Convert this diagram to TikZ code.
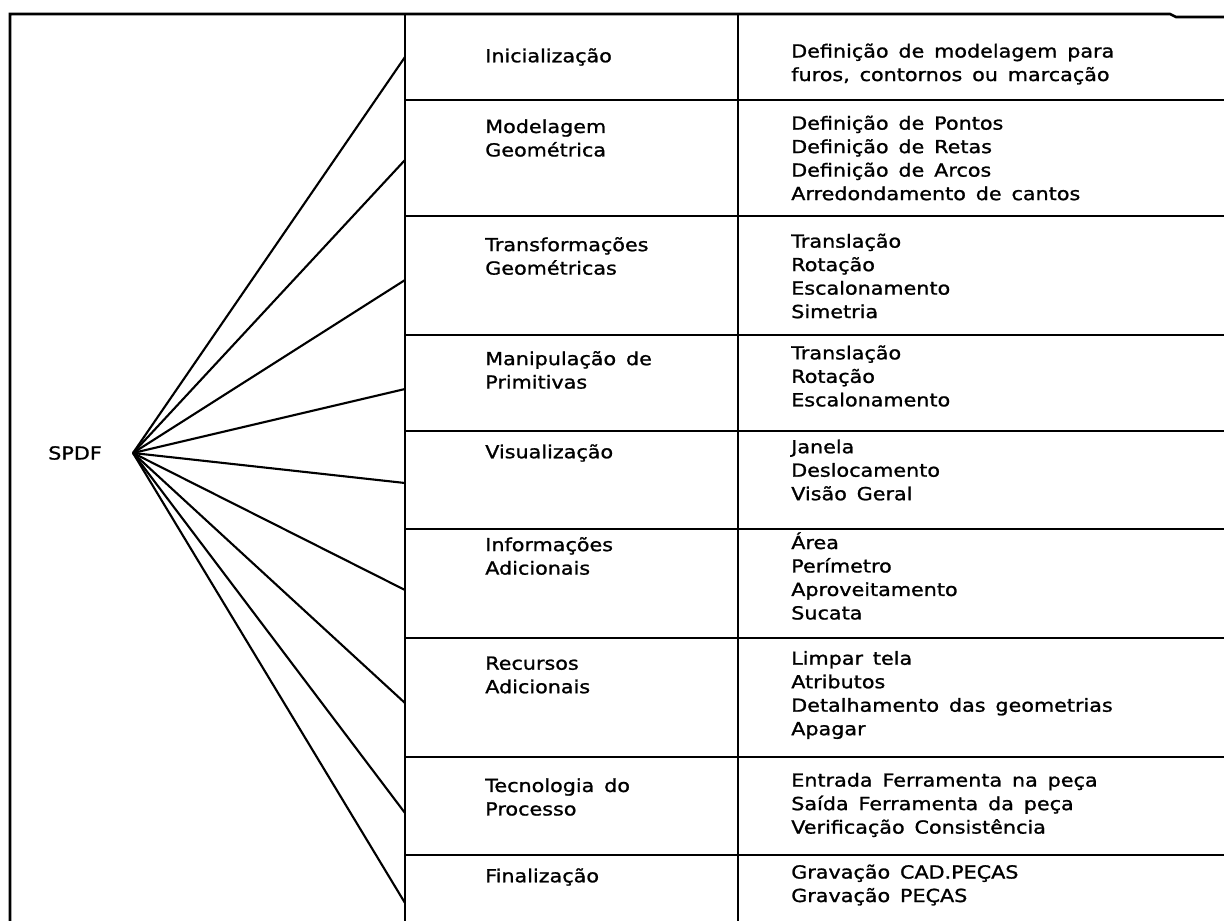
\documentclass[tikz,border=0pt]{standalone}
\usepackage{fontspec}
\setmainfont{DejaVu Sans}[FakeStretch=1.15, FakeBold=1.2, WordSpace=1.5]
\usepackage{tikz}

\begin{document}
\begin{tikzpicture}[x=0.025cm, y=-0.025cm,
		frame/.style={line width=1.8pt},
		ray/.style={line width=1.5pt},
		entry/.style={anchor=west, inner sep=0pt, align=left, font=\fontsize{12.8}{16.7}\selectfont}]
	\useasboundingbox (0,0) rectangle (1224,921);

	% quadro
	\draw[frame] (10,921) -- (10,14) -- (1170,14) -- (1176,17) -- (1224,17);
	\draw[frame] (405,14) -- (405,921);
	\draw[frame] (738,14) -- (738,921);
	\draw[frame] (405,100) -- (1224,100);
	\draw[frame] (405,216) -- (1224,216);
	\draw[frame] (405,335) -- (1224,335);
	\draw[frame] (405,431) -- (1224,431);
	\draw[frame] (405,529) -- (1224,529);
	\draw[frame] (405,638) -- (1224,638);
	\draw[frame] (405,757) -- (1224,757);
	\draw[frame] (405,855) -- (1224,855);

	% leque
	\node[entry] at (48,453) (spdf) {SPDF};
	\coordinate (hub) at (133,453);
	\coordinate (e1) at (405,57);
	\coordinate (e2) at (405,160);
	\coordinate (e3) at (405,280);
	\coordinate (e4) at (405,389);
	\coordinate (e5) at (405,483);
	\coordinate (e6) at (405,590);
	\coordinate (e7) at (405,703);
	\coordinate (e8) at (405,813);
	\coordinate (e9) at (405,903);
	\draw[ray] (hub) -- (e1);
	\draw[ray] (hub) -- (e2);
	\draw[ray] (hub) -- (e3);
	\draw[ray] (hub) -- (e4);
	\draw[ray] (hub) -- (e5);
	\draw[ray] (hub) -- (e6);
	\draw[ray] (hub) -- (e7);
	\draw[ray] (hub) -- (e8);
	\draw[ray] (hub) -- (e9);

	% modulos
	\node[entry] at (485,57) (ini) {Inicialização};
	\node[entry] at (485,138) (mod) {Modelagem\\Geométrica};
	\node[entry] at (485,256) (trf) {Transformações\\Geométricas};
	\node[entry] at (485,370) (man) {Manipulação de\\Primitivas};
	\node[entry] at (485,453) (vis) {Visualização};
	\node[entry] at (485,556) (inf) {Informações\\Adicionais};
	\node[entry] at (485,675) (rec) {Recursos\\Adicionais};
	\node[entry] at (485,797) (tec) {Tecnologia do\\Processo};
	\node[entry] at (485,877) (fin) {Finalização};

	% funcoes
	\node[entry] at (791,64) (ini-f) {Definição de modelagem para\\furos, contornos ou marcação};
	\node[entry] at (791,158) (mod-f) {Definição de Pontos\\Definição de Retas\\Definição de Arcos\\Arredondamento de cantos};
	\node[entry] at (791,276) (trf-f) {Translação\\Rotação\\Escalonamento\\Simetria};
	\node[entry] at (791,376) (man-f) {Translação\\Rotação\\Escalonamento};
	\node[entry] at (791,470) (vis-f) {Janela\\Deslocamento\\Visão Geral};
	\node[entry] at (791,576) (inf-f) {Área\\Perímetro\\Aproveitamento\\Sucata};
	\node[entry] at (791,695) (rec-f) {Limpar tela\\Atributos\\Detalhamento das geometrias\\Apagar};
	\node[entry] at (791,805) (tec-f) {Entrada Ferramenta na peça\\Saída Ferramenta da peça\\Verificação Consistência};
	\node[entry] at (791,885) (fin-f) {Gravação CAD.PEÇAS\\Gravação PEÇAS};
\end{tikzpicture}
\end{document}
